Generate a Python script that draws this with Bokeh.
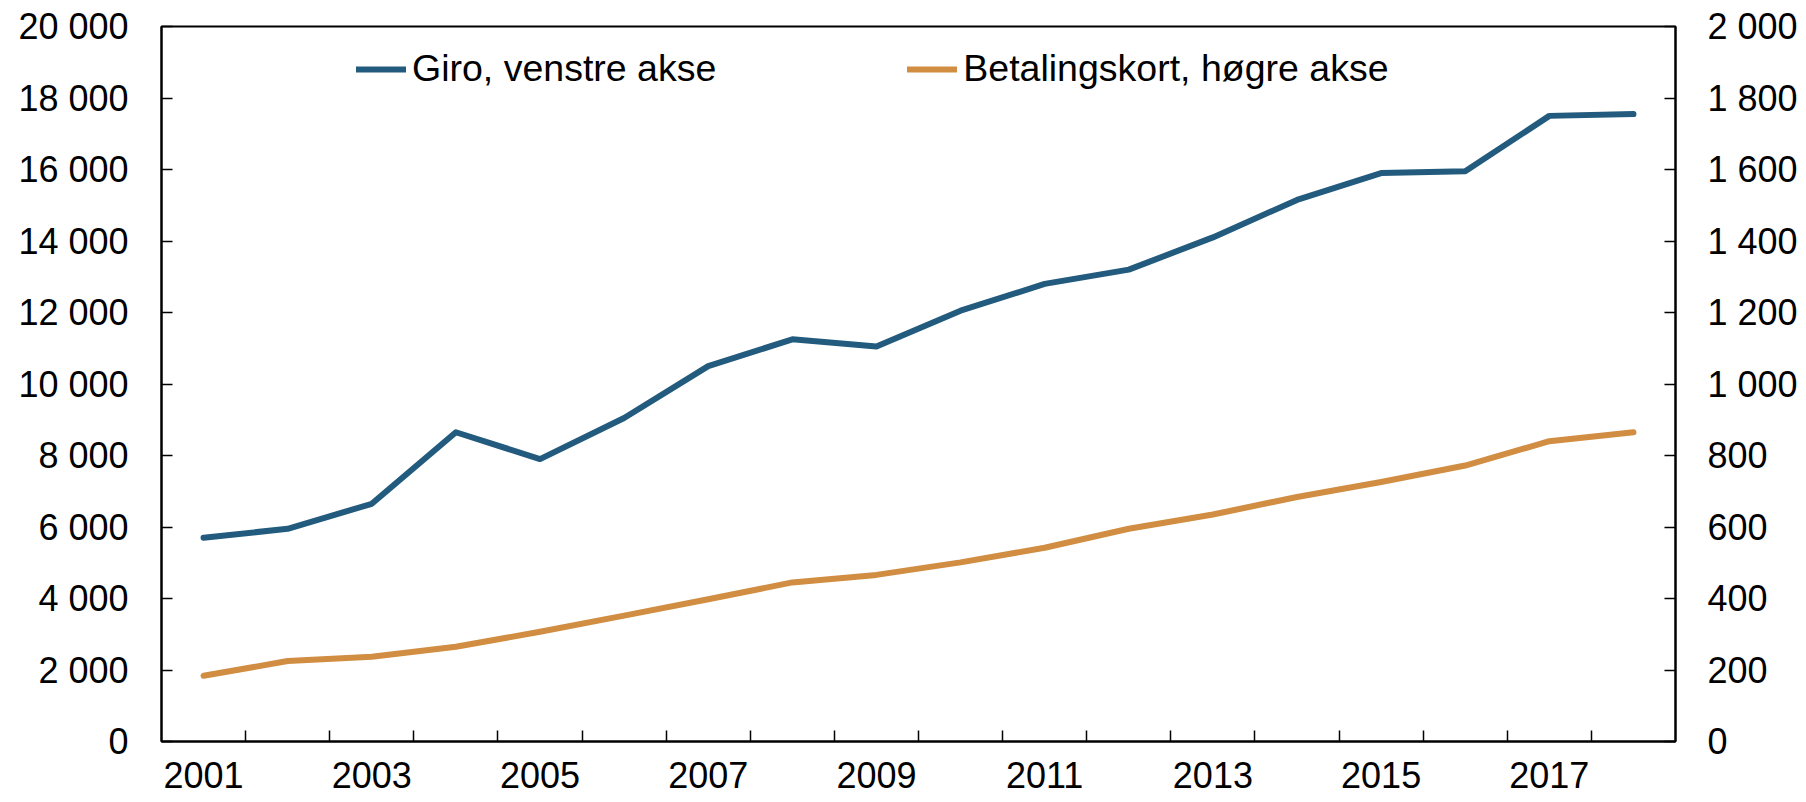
from bokeh.plotting import figure
from bokeh.models import Range1d, LinearAxis, FixedTicker, Legend, LegendItem
from bokeh.embed import file_html
from bokeh.resources import INLINE

# ---- data ----
years = list(range(2001, 2019))
giro = [5700, 5950, 6650, 8650, 7900, 9050, 10500, 11250, 11050, 12050,
        12800, 13200, 14100, 15150, 15900, 15950, 17500, 17550]
betalingskort = [184, 225, 237, 265, 307, 352, 398, 445, 466, 501,
                 542, 595, 635, 684, 726, 772, 840, 865]
x_label_years = [2001, 2003, 2005, 2007, 2009, 2011, 2013, 2015, 2017]
left_ticks = list(range(0, 20001, 2000))
right_ticks = list(range(0, 2001, 200))
series_names = ["Giro, venstre akse", "Betalingskort, høgre akse"]

FONT = "Liberation Sans"
FS = "36px"
LEGEND_FS = "37.5px"
BLUE = "#225b7d"
ORANGE = "#d18d42"


def fmt(v):
    return f"{v:,}".replace(",", " ")


p = figure(width=1806, height=802, output_backend="svg", toolbar_location=None,
           x_range=Range1d(years[0] - 0.5, years[-1] + 0.5),
           y_range=Range1d(left_ticks[0], left_ticks[-1]),
           x_axis_type=None, y_axis_type=None,
           min_border_left=161, min_border_right=131,
           min_border_top=26, min_border_bottom=61)
p.extra_y_ranges = {"right": Range1d(right_ticks[0], right_ticks[-1])}
p.outline_line_color = "black"
p.outline_line_width = 2
p.background_fill_color = "white"
p.border_fill_color = "white"


def style_axis(ax):
    ax.axis_line_color = "black"
    ax.axis_line_width = 2
    ax.major_tick_line_color = "black"
    ax.major_tick_line_width = 1.5
    ax.minor_tick_line_color = "black"
    ax.minor_tick_line_width = 1.5
    ax.major_label_text_font = FONT
    ax.major_label_text_font_size = FS
    ax.major_label_text_color = "black"


yl = LinearAxis(ticker=FixedTicker(ticks=left_ticks),
                major_label_overrides={v: fmt(v) for v in left_ticks})
style_axis(yl)
yl.major_tick_in = 11
yl.major_tick_out = 0
yl.minor_tick_in = 0
yl.minor_tick_out = 0
yl.major_label_standoff = 33
p.add_layout(yl, "left")

yr = LinearAxis(y_range_name="right", ticker=FixedTicker(ticks=right_ticks),
                major_label_overrides={v: fmt(v) for v in right_ticks})
style_axis(yr)
yr.major_tick_in = 11
yr.major_tick_out = 0
yr.minor_tick_in = 0
yr.minor_tick_out = 0
yr.major_label_standoff = 32
p.add_layout(yr, "right")

xa = LinearAxis(ticker=FixedTicker(ticks=x_label_years,
                                   minor_ticks=[y + 0.5 for y in years[:-1]]),
                major_label_overrides={y: str(y) for y in x_label_years})
style_axis(xa)
xa.major_tick_in = 0
xa.major_tick_out = 0
xa.minor_tick_in = 11
xa.minor_tick_out = 0
xa.major_label_standoff = 20
p.add_layout(xa, "below")

r1 = p.line(years, giro, line_color=BLUE, line_width=6,
            line_cap="round", line_join="round")
r2 = p.line(years, betalingskort, line_color=ORANGE, line_width=6,
            line_cap="round", line_join="round", y_range_name="right")

legend = Legend(items=[LegendItem(label=series_names[0], renderers=[r1]),
                       LegendItem(label=series_names[1], renderers=[r2])],
                orientation="horizontal", location=(195, 651),
                spacing=191, padding=0, margin=0,
                glyph_width=50, glyph_height=40, label_height=40,
                label_standoff=6, label_text_font=FONT,
                label_text_font_size=LEGEND_FS, label_text_color="black",
                border_line_alpha=0, background_fill_alpha=0)
p.add_layout(legend)

open("out.html", "w").write(file_html(p, INLINE))
